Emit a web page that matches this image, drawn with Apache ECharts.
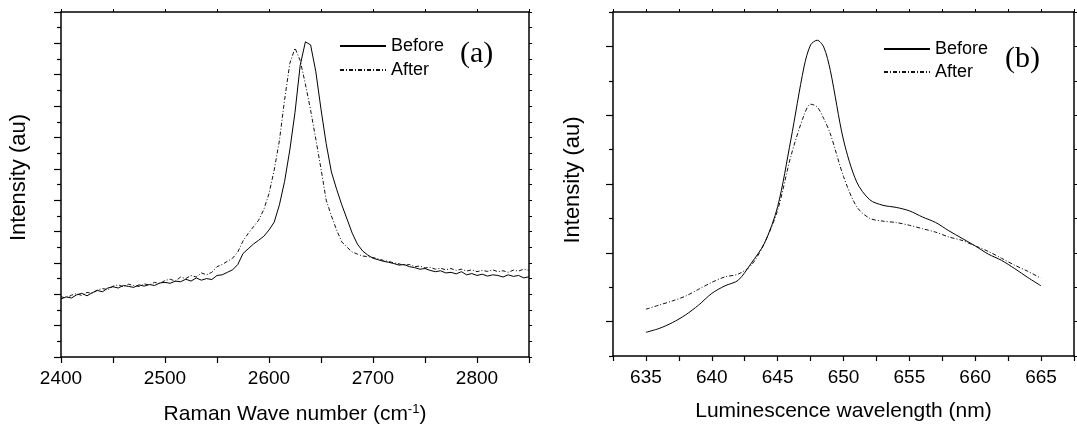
<!DOCTYPE html>
<html>
<head>
<meta charset="utf-8">
<script src="https://cdn.jsdelivr.net/npm/echarts@6/dist/echarts.min.js"></script>
<style>
  html, body { margin: 0; padding: 0; background: #fff; }
  #chart { width: 1077px; height: 431px; }
</style>
</head>
<body>
<div id="chart"></div>
<script>
// (a) Raman spectra
var ramanX = [
  2400, 2405, 2410, 2415, 2420, 2425, 2430, 2435, 2440, 2445,
  2450, 2455, 2460, 2465, 2470, 2475, 2480, 2485, 2490, 2495,
  2500, 2505, 2510, 2515, 2520, 2525, 2530, 2535, 2540, 2545,
  2550, 2555, 2560, 2565, 2570, 2575, 2580, 2585, 2590, 2595,
  2600, 2605, 2610, 2615, 2620, 2625, 2630, 2635, 2640, 2645,
  2650, 2655, 2660, 2665, 2670, 2675, 2680, 2685, 2690, 2695,
  2700, 2705, 2710, 2715, 2720, 2725, 2730, 2735, 2740, 2745,
  2750, 2755, 2760, 2765, 2770, 2775, 2780, 2785, 2790, 2795,
  2800, 2805, 2810, 2815, 2820, 2825, 2830, 2835, 2840, 2845,
  2850
];
var ramanBefore = [
  1.85, 1.92, 1.88, 1.98, 2.03, 1.95, 2.05, 2.12, 2.08, 2.2,
  2.24, 2.2, 2.28, 2.25, 2.22, 2.3, 2.26, 2.31, 2.28, 2.36,
  2.38, 2.35, 2.42, 2.4, 2.48, 2.42, 2.52, 2.45, 2.5, 2.47,
  2.6, 2.62, 2.7, 2.78, 2.95, 3.3, 3.45, 3.6, 3.72, 3.85,
  4.05, 4.3, 4.85, 5.6, 6.6, 7.8, 9.3, 10.05, 9.95, 9.1,
  7.9, 6.8, 5.9, 5.35, 4.85, 4.4, 3.95, 3.6, 3.38, 3.25,
  3.15, 3.1, 3.05, 3.02, 2.98, 2.93, 2.95, 2.88, 2.85, 2.8,
  2.82, 2.76, 2.72, 2.75, 2.68, 2.7, 2.65, 2.72, 2.62, 2.66,
  2.6, 2.64, 2.58, 2.62, 2.6, 2.55, 2.62, 2.57, 2.6, 2.52,
  2.56
];
var ramanAfter = [
  1.92, 1.88, 1.97, 2.02, 1.96, 2.06, 2.03, 2.14, 2.18, 2.15,
  2.26, 2.3, 2.24, 2.32, 2.28, 2.25, 2.33, 2.3, 2.38, 2.34,
  2.44, 2.48, 2.42, 2.55, 2.5, 2.6, 2.55, 2.68, 2.62, 2.7,
  2.88, 2.95, 3.05, 3.15, 3.35, 3.7, 3.94, 4.15, 4.36, 4.7,
  5.21, 5.96, 6.9, 8.2, 9.36, 9.85, 9.45, 8.7, 7.87, 6.95,
  6.0, 5.0, 4.5, 4.05, 3.67, 3.5, 3.35, 3.28, 3.22, 3.2,
  3.17, 3.13, 3.08, 3.05, 3.0, 2.97, 2.92, 2.95, 2.88, 2.9,
  2.84, 2.86, 2.8, 2.83, 2.78, 2.82, 2.76, 2.8, 2.74, 2.78,
  2.72, 2.76, 2.73, 2.78, 2.72, 2.75, 2.7, 2.77, 2.74, 2.8,
  2.76
];

// (b) luminescence spectra
var lumX = [635, 636, 637, 638, 639, 640, 641, 642, 643, 644, 645, 646, 647,
  647.5, 648, 648.5, 649, 650, 651, 652, 653, 654, 655, 656, 657, 658, 659,
  660, 661, 662, 663, 664, 665];
var lumBefore = [0.344, 0.40, 0.484, 0.596, 0.74, 0.91, 1.02, 1.10, 1.35, 1.64,
  2.17, 3.14, 4.20, 4.52, 4.59, 4.49, 4.15, 3.14, 2.53, 2.27, 2.19, 2.16, 2.11,
  2.02, 1.94, 1.82, 1.71, 1.60, 1.48, 1.39, 1.27, 1.14, 1.02];
var lumAfter = [0.68, 0.74, 0.80, 0.87, 0.97, 1.07, 1.15, 1.19, 1.32, 1.64,
  2.12, 2.90, 3.50, 3.66, 3.62, 3.45, 3.23, 2.61, 2.17, 2.0, 1.96, 1.94, 1.90,
  1.85, 1.80, 1.73, 1.68, 1.60, 1.52, 1.42, 1.32, 1.23, 1.13];

var seriesNames = ['Before', 'After'];

function pairs(xs, ys) {
  return xs.map(function (x, i) { return [x, ys[i]]; });
}

var sans = 'Liberation Sans, Arial, sans-serif';
var axisLine = { show: true, onZero: false, lineStyle: { color: '#000', width: 1.5 } };
var solid = { color: '#000', width: 1, type: 'solid' };
var dashDot = { color: '#111', width: 1, type: [4, 2, 1, 2] };

function frameAxis(pos, gi, min, max, interval) {
  return {
    type: 'value', gridIndex: gi, position: pos, min: min, max: max, interval: interval,
    axisLine: axisLine,
    axisTick: { show: true, inside: false, length: 3, lineStyle: { color: '#000' } },
    axisLabel: { show: false }, splitLine: { show: false }
  };
}

var myChart = echarts.init(document.getElementById('chart'));

var option = {
  animation: false,
  backgroundColor: '#fff',
  grid: [
    { left: 61, top: 12, width: 468, height: 345 },
    { left: 613, top: 12, width: 467, height: 344 }
  ],
  xAxis: [
    {
      type: 'value', gridIndex: 0, min: 2400, max: 2850, interval: 50,
      axisLine: axisLine,
      axisTick: { show: true, inside: false, length: 6, lineStyle: { color: '#000', width: 1.2 } },
      axisLabel: {
        margin: 12, fontSize: 19, fontFamily: sans, color: '#000',
        formatter: function (v) { return v % 100 === 0 && v < 2850 ? String(v) : ''; }
      },
      splitLine: { show: false },
      name: '{t|Raman Wave number (cm}{s|-1}{t|)}',
      nameLocation: 'middle', nameGap: 46,
      nameTextStyle: {
        rich: {
          t: { fontSize: 21, fontFamily: sans, color: '#000' },
          s: { fontSize: 13, fontFamily: sans, color: '#000', verticalAlign: 'top', padding: [0, 0, 10, 0] }
        }
      }
    },
    frameAxis('top', 0, 2400, 2850, 50),
    {
      type: 'value', gridIndex: 1, min: 632.5, max: 667.5, interval: 2.5,
      axisLine: axisLine,
      axisTick: { show: true, inside: false, length: 5, lineStyle: { color: '#000', width: 1.2 } },
      axisLabel: {
        margin: 12, fontSize: 19, fontFamily: sans, color: '#000',
        formatter: function (v) { return v % 5 === 0 ? String(v) : ''; }
      },
      splitLine: { show: false },
      name: 'Luminescence wavelength (nm)',
      nameLocation: 'middle', nameGap: 45,
      nameTextStyle: { fontSize: 21, fontFamily: sans, color: '#000' }
    },
    frameAxis('top', 1, 632.5, 667.5, 2.5)
  ],
  yAxis: [
    {
      type: 'value', gridIndex: 0, min: 0, max: 11, interval: 1,
      axisLine: axisLine,
      axisTick: { show: true, inside: false, length: 7, lineStyle: { color: '#000', width: 1.2 } },
      minorTick: { show: true, splitNumber: 2, length: 4, lineStyle: { color: '#000', width: 1.2 } },
      axisLabel: { show: false }, splitLine: { show: false },
      name: 'Intensity (au)', nameLocation: 'middle', nameGap: 31, nameRotate: 90,
      nameTextStyle: { fontSize: 22, fontFamily: sans, color: '#000', padding: [0, 0, 0, 14] }
    },
    frameAxis('right', 0, 0, 11, 0.5),
    {
      type: 'value', gridIndex: 1, min: 0, max: 5, interval: 1,
      axisLine: axisLine,
      axisTick: { show: true, inside: false, length: 4, lineStyle: { color: '#000', width: 1.2 } },
      minorTick: { show: true, splitNumber: 2, length: 7, lineStyle: { color: '#000', width: 1.2 } },
      axisLabel: { show: false }, splitLine: { show: false },
      name: 'Intensity (au)', nameLocation: 'middle', nameGap: 29, nameRotate: 90,
      nameTextStyle: { fontSize: 22, fontFamily: sans, color: '#000', padding: [0, 0, 0, 8] }
    },
    frameAxis('right', 1, 0, 5, 0.5)
  ],
  legend: [
    {
      data: seriesNames, orient: 'vertical', left: 339, top: 37,
      itemWidth: 46, itemHeight: 18, itemGap: 6, padding: 0,
      itemStyle: { opacity: 0, borderWidth: 0 },
      textStyle: { fontSize: 18, fontFamily: sans, color: '#000' }
    },
    {
      data: seriesNames, orient: 'vertical', left: 883, top: 40,
      itemWidth: 46, itemHeight: 18, itemGap: 5, padding: 0,
      itemStyle: { opacity: 0, borderWidth: 0 },
      textStyle: { fontSize: 18, fontFamily: sans, color: '#000' }
    }
  ],
  graphic: [
    { type: 'text', left: 460, top: 39, style: { text: '(a)', font: '30px "Liberation Serif", "Times New Roman", serif', fill: '#000' } },
    { type: 'text', left: 1005, top: 44, style: { text: '(b)', font: '30px "Liberation Serif", "Times New Roman", serif', fill: '#000' } }
  ],
  series: [
    {
      name: 'Before', type: 'line', xAxisIndex: 0, yAxisIndex: 0, symbol: 'none', symbolSize: 0,
      lineStyle: solid, itemStyle: { color: '#000' }, data: pairs(ramanX, ramanBefore)
    },
    {
      name: 'After', type: 'line', xAxisIndex: 0, yAxisIndex: 0, symbol: 'none', symbolSize: 0,
      lineStyle: dashDot, itemStyle: { color: '#111' }, data: pairs(ramanX, ramanAfter)
    },
    {
      name: 'Before', type: 'line', xAxisIndex: 2, yAxisIndex: 2, symbol: 'none', symbolSize: 0, smooth: 0.3,
      lineStyle: solid, itemStyle: { color: '#000' }, data: pairs(lumX, lumBefore)
    },
    {
      name: 'After', type: 'line', xAxisIndex: 2, yAxisIndex: 2, symbol: 'none', symbolSize: 0, smooth: 0.3,
      lineStyle: dashDot, itemStyle: { color: '#111' }, data: pairs(lumX, lumAfter)
    }
  ]
};

option && myChart.setOption(option);
</script>
</body>
</html>
